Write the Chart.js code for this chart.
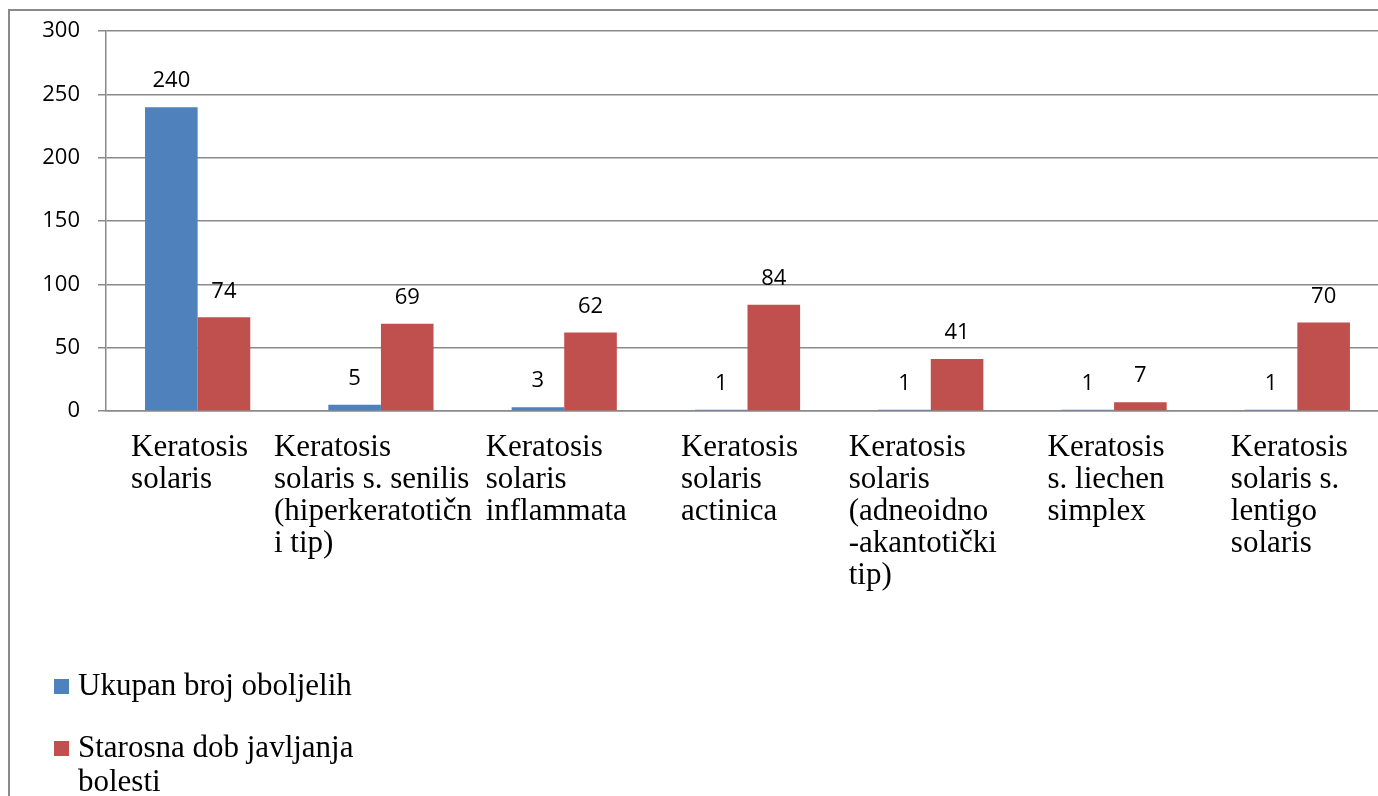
<!DOCTYPE html>
<html>
<head>
<meta charset="utf-8">
<script src="https://cdn.jsdelivr.net/npm/chart.js@4.4.1/dist/chart.umd.min.js"></script>
<style>
  html, body { margin: 0; padding: 0; background: #fff; overflow: hidden; }
  #wrap { width: 1390px; height: 796px; }
</style>
</head>
<body>
<div id="wrap"><canvas id="chart" width="1390" height="796"></canvas></div>
<script>
// chart data
const categories = [
    ['Keratosis', 'solaris'],
    ['Keratosis', 'solaris s. senilis', '(hiperkeratotičn', 'i tip)'],
    ['Keratosis', 'solaris', 'inflammata'],
    ['Keratosis', 'solaris', 'actinica'],
    ['Keratosis', 'solaris', '(adneoidno', '-akantotički', 'tip)'],
    ['Keratosis', 's. liechen', 'simplex'],
    ['Keratosis', 'solaris s.', 'lentigo', 'solaris']
];
const seriesNames = ['Ukupan broj oboljelih', 'Starosna dob javljanja bolesti'];
const totalCases = [240, 5, 3, 1, 1, 1, 1];
const onsetAge = [74, 69, 62, 84, 41, 7, 70];
const yTicks = { min: 0, max: 300, step: 50 };

const gridGray = '#8a8a8a';
const serif = '"Liberation Serif", "Times New Roman", serif';
const sans = '"Open Sans", sans-serif';

// outer frame (the original is cut off on the right and bottom)
const framePlugin = {
    id: 'frame',
    beforeDraw(chart) {
        const ctx = chart.ctx;
        ctx.save();
        ctx.strokeStyle = '#8a8a8a';
        ctx.lineWidth = 2;
        ctx.strokeRect(9, 10, 2000, 2000);
        ctx.restore();
    }
};

// value labels above each bar
const valueLabels = {
    id: 'valueLabels',
    afterDatasetsDraw(chart) {
        const ctx = chart.ctx;
        ctx.save();
        ctx.font = '22px ' + sans;
        ctx.fillStyle = '#000';
        ctx.textAlign = 'center';
        ctx.textBaseline = 'middle';
        chart.data.datasets.forEach((ds, di) => {
            chart.getDatasetMeta(di).data.forEach((bar, i) => {
                ctx.fillText(ds.data[i], bar.x, bar.y - 26);
            });
        });
        ctx.restore();
    }
};

// category labels: left-aligned wrapped blocks centred under each group
const categoryLabels = {
    id: 'categoryLabels',
    afterDraw(chart) {
        const ctx = chart.ctx;
        const xs = chart.scales.x;
        ctx.save();
        ctx.font = '31px ' + serif;
        ctx.fillStyle = '#000';
        ctx.textAlign = 'left';
        ctx.textBaseline = 'middle';
        chart.data.labels.forEach((lines, i) => {
            const cx = xs.getPixelForValue(i);
            const w = Math.max(...lines.map(l => ctx.measureText(l).width));
            const left = cx - w / 2 - 8;
            lines.forEach((line, j) => {
                ctx.fillText(line, left, chart.chartArea.bottom + 37 + j * 32);
            });
        });
        ctx.restore();
    }
};

// vertical legend in the lower left corner
const sideLegend = {
    id: 'sideLegend',
    afterDraw(chart) {
        const ctx = chart.ctx;
        ctx.save();
        ctx.font = '31px ' + serif;
        ctx.textBaseline = 'middle';
        ctx.textAlign = 'left';
        let y = 687;
        chart.data.datasets.forEach(ds => {
            // wrap text to the legend width
            const words = ds.label.split(' ');
            const lines = [];
            let cur = '';
            words.forEach(wd => {
                const test = cur ? cur + ' ' + wd : wd;
                if (ctx.measureText(test).width > 300 && cur) { lines.push(cur); cur = wd; }
                else cur = test;
            });
            lines.push(cur);
            ctx.fillStyle = ds.backgroundColor;
            ctx.fillRect(54, y - 8, 15, 15);
            ctx.fillStyle = '#000';
            lines.forEach((l, j) => ctx.fillText(l, 78, y + j * 34));
            y += 62;
        });
        ctx.restore();
    }
};

const ctx = document.getElementById('chart').getContext('2d');
new Chart(ctx, {
    type: 'bar',
    data: {
        labels: categories,
        datasets: [
            { label: seriesNames[0], data: totalCases, backgroundColor: '#4f81bd' },
            { label: seriesNames[1], data: onsetAge, backgroundColor: '#c0504d' }
        ]
    },
    options: {
        responsive: false,
        animation: false,
        layout: { padding: { top: 29, right: 1, bottom: 0, left: 0 } },
        datasets: { bar: { categoryPercentage: 0.574, barPercentage: 1 } },
        plugins: { legend: { display: false }, tooltip: { enabled: false } },
        scales: {
            x: {
                grid: { display: false },
                border: { display: true, color: gridGray, width: 1.5 },
                ticks: { display: false },
                afterFit: (scale) => { scale.height = 385; }
            },
            y: {
                min: yTicks.min,
                max: yTicks.max,
                ticks: { stepSize: yTicks.step, color: '#000', padding: 18, font: { family: sans, size: 22 } },
                grid: { color: gridGray, lineWidth: 1.5, tickLength: 8 },
                border: { display: true, color: gridGray, width: 1.5 },
                afterFit: (scale) => { scale.width = 106; }
            }
        }
    },
    plugins: [framePlugin, valueLabels, categoryLabels, sideLegend]
});
</script>
</body>
</html>
